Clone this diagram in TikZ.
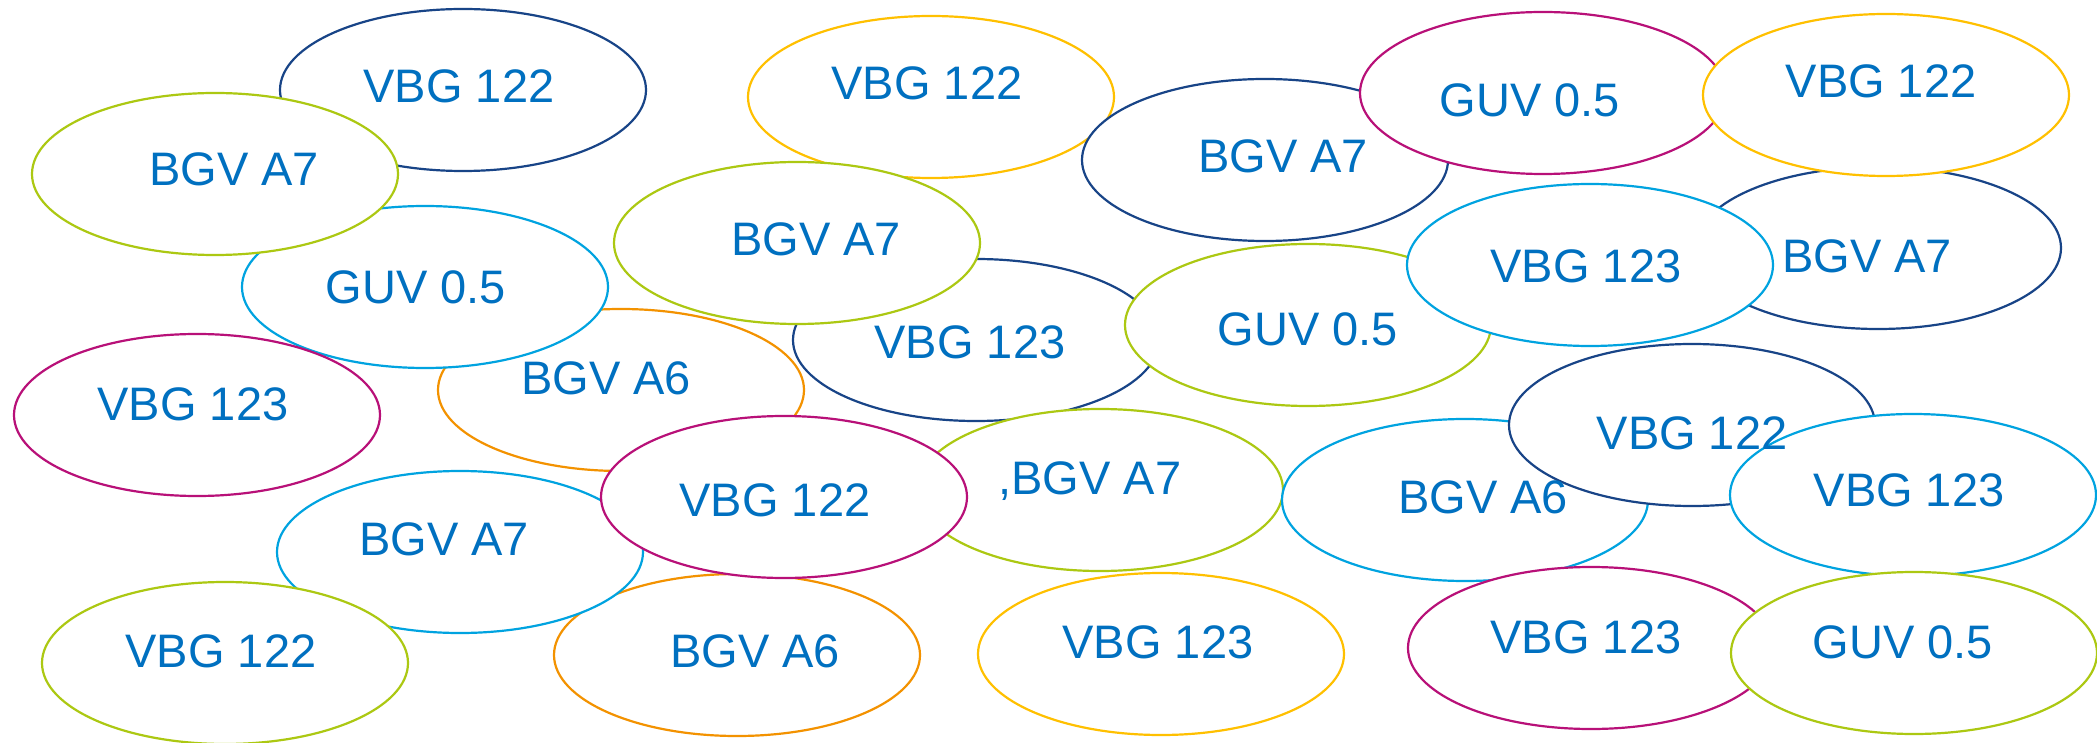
\documentclass[tikz,border=0pt]{standalone}
\usepackage{fontspec}
\setmainfont{Liberation Sans}
\usetikzlibrary{shapes.geometric}
\definecolor{cnavy}{RGB}{24,68,135}
\definecolor{cyg}{RGB}{172,200,18}
\definecolor{ccyan}{RGB}{0,163,224}
\definecolor{cmag}{RGB}{184,16,120}
\definecolor{corange}{RGB}{243,146,0}
\definecolor{cgold}{RGB}{255,192,0}
\definecolor{ctext}{RGB}{0,112,192}
\tikzset{
  ell/.style={ellipse, draw, fill=white, line width=2.2pt, minimum width=366pt, minimum height=162pt, inner sep=0pt},
  lbl/.style={anchor=base, inner sep=0pt, text=ctext, font=\fontsize{47}{56}\selectfont}
}
\begin{document}
\begin{tikzpicture}[x=1pt,y=-1pt]
\useasboundingbox[fill=white] (0,0) rectangle (2097,743);
% ellipses in stacking order
\node[ell, draw=cnavy]   (e1)  at (463,90)   {};
\node[ell, draw=corange] (e5)  at (621,390)  {};
\node[ell, draw=ccyan]   (e3)  at (425,287)  {};
\node[ell, draw=cyg]     (e2)  at (215,174)  {};
\node[ell, draw=cmag]    (e4)  at (197,415)  {};
\node[ell, draw=cgold]   (e6)  at (931,97)   {};
\node[ell, draw=cnavy]   (e8)  at (976,340)  {};
\node[ell, draw=cyg]     (e7)  at (797,243)  {};
\node[ell, draw=cnavy]   (e9)  at (1265,160) {};
\node[ell, draw=cmag]    (e10) at (1543,93)  {};
\node[ell, draw=cnavy]   (e12) at (1878,248) {};
\node[ell, draw=cgold]   (e11) at (1886,95)  {};
\node[ell, draw=cyg]     (e13) at (1308,325) {};
\node[ell, draw=ccyan]   (e14) at (1590,265) {};
\node[ell, draw=cyg]     (e15) at (1100,490) {};
\node[ell, draw=corange] (e19) at (737,655)  {};
\node[ell, draw=ccyan]   (e17) at (460,552)  {};
\node[ell, draw=cyg]     (e18) at (225,663)  {};
\node[ell, draw=cmag]    (e16) at (784,497)  {};
\node[ell, draw=cgold]   (e20) at (1161,654) {};
\node[ell, draw=ccyan]   (e21) at (1465,500) {};
\node[ell, draw=cnavy]   (e22) at (1692,425) {};
\node[ell, draw=ccyan]   (e23) at (1913,495) {};
\node[ell, draw=cmag]    (e24) at (1591,648) {};
\node[ell, draw=cyg]     (e25) at (1914,653) {};
% labels
\node[lbl] (t1)  at (459,103)  {VBG 122};
\node[lbl] (t2)  at (234,186)  {BGV A7};
\node[lbl] (t3)  at (416,304)  {GUV 0.5};
\node[lbl] (t4)  at (193,420)  {VBG 123};
\node[lbl] (t5)  at (606,395)  {BGV A6};
\node[lbl] (t6)  at (927,100)  {VBG 122};
\node[lbl] (t7)  at (816,256)  {BGV A7};
\node[lbl] (t8)  at (970,359)  {VBG 123};
\node[lbl] (t9)  at (1283,173) {BGV A7};
\node[lbl] (t10) at (1530,117) {GUV 0.5};
\node[lbl] (t11) at (1881,98)  {VBG 122};
\node[lbl] (t12) at (1867,273) {BGV A7};
\node[lbl] (t13) at (1308,345) {GUV 0.5};
\node[lbl] (t14) at (1586,283) {VBG 123};
\node[lbl] (t15) at (1090,494) {,BGV A7};
\node[lbl] (t16) at (775,516)  {VBG 122};
\node[lbl] (t17) at (444,555)  {BGV A7};
\node[lbl] (t18) at (221,667)  {VBG 122};
\node[lbl] (t19) at (755,667)  {BGV A6};
\node[lbl] (t20) at (1158,658) {VBG 123};
\node[lbl] (t21) at (1483,513) {BGV A6};
\node[lbl] (t22) at (1692,449) {VBG 122};
\node[lbl] (t23) at (1909,506) {VBG 123};
\node[lbl] (t24) at (1586,653) {VBG 123};
\node[lbl] (t25) at (1903,658) {GUV 0.5};
\end{tikzpicture}
\end{document}
